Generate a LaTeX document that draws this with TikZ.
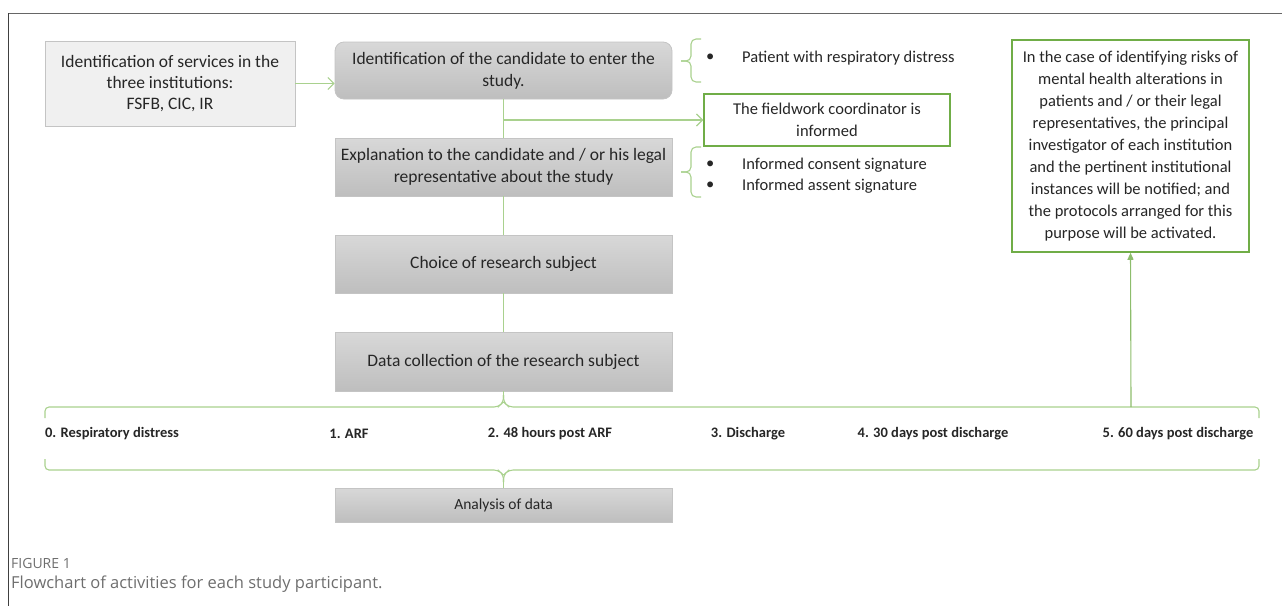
\documentclass[tikz,border=0pt]{standalone}
\usepackage{fontspec}
\setmainfont{Carlito}
\newfontfamily\capfont{Open Sans}
\usetikzlibrary{arrows.meta}
\definecolor{lgreen}{HTML}{A9D18E}
\definecolor{dgreen}{HTML}{70AD47}
\definecolor{boxtop}{HTML}{D8D8D8}
\definecolor{boxbot}{HTML}{BEBEBE}
\definecolor{boxline}{HTML}{C4C4C4}
\definecolor{txt}{HTML}{262626}
\definecolor{capgray}{HTML}{6E6E6E}
\tikzset{
  every node/.style={text=txt},
  graybox/.style={draw=boxline, line width=0.8pt, top color=boxtop, bottom color=boxbot,
    minimum width=337pt, align=center, inner sep=2pt, font=\fontsize{17.5}{22}\selectfont},
  lightbox/.style={draw=boxline, line width=0.8pt, fill=black!6, align=center,
    font=\fontsize{17.5}{21}\selectfont},
  greenbox/.style={draw=dgreen, line width=1.5pt, fill=white, align=center,
    font=\fontsize{16.5}{22}\selectfont},
  gline/.style={draw=lgreen, line width=1.1pt},
  openarrow/.style={gline, -{Straight Barb[length=6pt,width=12pt]}},
  solidarrow/.style={gline, -{Triangle[length=7pt,width=6pt]}, draw=dgreen!80},
  bullettext/.style={anchor=west, font=\fontsize{16.5}{21}\selectfont, inner sep=0pt},
  tl/.style={font=\fontsize{14.5}{17}\selectfont\bfseries, inner sep=0pt},
}
\begin{document}
\begin{tikzpicture}[x=1pt,y=-1pt]
\useasboundingbox (0,0) rectangle (1282,606);
% frame lines
\draw[draw=black!60, line width=1pt] (8,13) -- (1282,13);
\draw[draw=black!75, line width=0.8pt] (8,13) -- (8,606);

% nodes
\node[lightbox, minimum width=250pt, minimum height=85pt] (A) at (170,83.5)
  {Identification of services in the\\three institutions:\\FSFB, CIC, IR};
\node[graybox, rounded corners=9pt, minimum height=57pt] (B) at (503.5,70.5)
  {Identification of the candidate to enter the\\study.};
\node[graybox, minimum height=58pt] (C) at (503.5,167)
  {Explanation to the candidate and / or his legal\\representative about the study};
\node[graybox, minimum height=58pt] (D) at (503.5,264) {Choice of research subject};
\node[graybox, minimum height=59pt] (E) at (503.5,361.5) {Data collection of the research subject};
\node[graybox, minimum height=34pt] (F) at (503.5,505) {\fontsize{15.5}{18}\selectfont Analysis of data};
\node[greenbox, minimum width=246pt, minimum height=52pt] (FW) at (827,120)
  {The fieldwork coordinator is\\informed};
\node[greenbox, minimum width=237pt, minimum height=212pt] (G) at (1130.5,146)
  {In the case of identifying risks of\\mental health alterations in\\patients and / or their legal\\representatives, the principal\\investigator of each institution\\and the pertinent institutional\\instances will be notified; and\\the protocols arranged for this\\purpose will be activated.};

% bullet lists
\node[bullettext] (b0) at (706,58) {\textbullet};
\node[bullettext] (t0) at (742,58) {Patient with respiratory distress};
\node[bullettext] (b1) at (706,165) {\textbullet};
\node[bullettext] (t1) at (742,165) {Informed consent signature};
\node[bullettext] (b2) at (706,186) {\textbullet};
\node[bullettext] (t2) at (742,186) {Informed assent signature};

% braces (right side)
\draw[gline, rounded corners=5pt] (701,39) -- (691,39) -- (691,61) -- (681,61);
\draw[gline, rounded corners=5pt] (681,61) -- (691,61) -- (691,82) -- (701,82);
\draw[gline, rounded corners=5pt] (701,147) -- (691,147) -- (691,172) -- (681,172);
\draw[gline, rounded corners=5pt] (681,172) -- (691,172) -- (691,197) -- (701,197);

% timeline braces
\coordinate (tt) at (503.5,395);
\coordinate (bt) at (503.5,482);
\coordinate (gt) at (1131,407);
\draw[gline, rounded corners=4pt] (45,418) -- (45,407) -- (498,407) -- (503.5,402) -- (tt);
\draw[gline, rounded corners=4pt] (tt) -- (503.5,402) -- (509,407) -- (1259,407) -- (1259,418);
\draw[gline, rounded corners=4pt] (45,459) -- (45,470) -- (498,470) -- (503.5,475) -- (bt);
\draw[gline, rounded corners=4pt] (bt) -- (503.5,475) -- (509,470) -- (1259,470) -- (1259,459);

% timeline labels
\node[tl] (l0) at (112,434) {0. Respiratory distress};
\node[tl] (l1) at (349,434) {1. ARF};
\node[tl] (l2) at (550,434) {2. 48 hours post ARF};
\node[tl] (l3) at (748,434) {3. Discharge};
\node[tl] (l4) at (933,434) {4. 30 days post discharge};
\node[tl] (l5) at (1178,434) {5. 60 days post discharge};

% connectors
\draw[openarrow] (A.east) -- (B.west |- A.east);
\draw[gline] (B.south) -- (C.north);
\draw[gline] (C.south) -- (D.north);
\draw[gline] (D.south) -- (E.north);
\draw[gline] (E.south) -- (tt);
\draw[gline] (bt) -- (F.north);
\draw[openarrow] (B.south |- FW.west) -- (FW.west);
\draw[solidarrow] (gt) -- (G.south);

% caption
\node[anchor=west, inner sep=0pt, text=capgray, font=\capfont\fontsize{14}{16}\selectfont] (cap1) at (11,563) {FIGURE 1};
\node[anchor=west, inner sep=0pt, text=capgray, font=\capfont\fontsize{16.5}{19}\selectfont] (cap2) at (11,584) {Flowchart of activities for each study participant.};
\end{tikzpicture}
\end{document}
